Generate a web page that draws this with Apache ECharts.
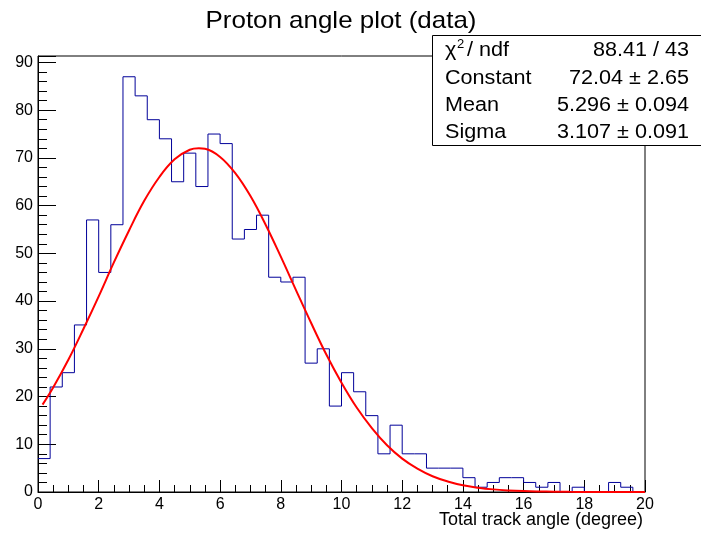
<!DOCTYPE html>
<html>
<head>
<meta charset="utf-8">
<script src="https://cdn.jsdelivr.net/npm/echarts@6/dist/echarts.min.js"></script>
<style>html,body{margin:0;padding:0;background:#fff}#c{width:701px;height:535px}</style>
</head>
<body>
<div id="c"></div>
<script>
// Histogram: 50 bins of width 0.4 from 0 to 20
const binLow = 0;
const binWidth = 0.4;
const counts = [7,22,25,35,57,46,56,87,83,78,
                74,65,71,64,75,73,53,55,58,45,
                44,45,27,30,18,25,21,16,8,14,
                8,8,5,5,5,3,1,2,3,3,
                2,1,2,0,1,0,0,2,1,0];
// Fit curve
const fitX = [0.15,0.5,1,1.5,2,2.5,3,3.5,4,4.5,5,5.3,5.5,6,6.5,7,7.5,8,8.5,9,9.5,10,10.5,11,11.5,12,12.5,13,13.5,14,14.5,15,15.5,16,16.5,17,17.5,18,18.5,19,19.5,20];
const fitY = [18.3,21.9,27.7,34.2,41.0,48.1,54.8,61.0,66.0,69.7,71.7,72.0,71.9,70.2,66.8,62.0,56.0,49.3,42.3,35.4,28.8,22.9,17.7,13.4,9.8,7.0,4.9,3.3,2.2,1.4,0.9,0.55,0.33,0.19,0.11,0.06,0.03,0.015,0.007,0.003,0.001,0.0005];
const titleText = 'Proton angle plot (data)';
const xTitle = 'Total track angle (degree)';
const statNames = ['Constant','Mean','Sigma'];
const statValues = ['88.41 / 43','72.04 \u00b1 2.65','5.296 \u00b1 0.094','3.107 \u00b1 0.091'];
const xMin = 0, xMax = 20, xStep = 2;
const yMin = 0, yMax = 91.35, yStep = 10;

const histData = counts.map((c, i) => [binLow + i * binWidth, c]);
histData.push([binLow + counts.length * binWidth, counts[counts.length - 1]]);
const fitData = fitX.map((x, i) => [x, fitY[i]]);

const FONT = '"Liberation Sans", Arial, Helvetica, sans-serif';
const chart = echarts.init(document.getElementById('c'), null, {renderer: 'canvas'});

const statFont = '20px ' + FONT;
const SX = 1.08;
const rowY = [50, 78, 105, 132];
const graphics = [
  {type: 'text', x: 341, y: 21, scaleX: 1.08, style: {text: titleText, x: 0, y: 0, align: 'center', verticalAlign: 'middle', font: '24px ' + FONT, fill: '#000'}},
  {type: 'text', x: 643, y: 520, style: {text: xTitle, x: 0, y: 0, align: 'right', verticalAlign: 'middle', font: '18px ' + FONT, fill: '#000'}},
  {type: 'rect', shape: {x: 432.5, y: 35.5, width: 300, height: 110}, style: {fill: '#fff', stroke: '#000', lineWidth: 1}, z: 10},
  {type: 'text', x: 445, y: rowY[0], z: 11, scaleX: SX, style: {text: '\u03c7', x: 0, y: 0, align: 'left', verticalAlign: 'middle', font: statFont, fill: '#000'}},
  {type: 'text', x: 457, y: rowY[0] - 6, z: 11, style: {text: '2', x: 0, y: 0, align: 'left', verticalAlign: 'middle', font: '13px ' + FONT, fill: '#000'}},
  {type: 'text', x: 467, y: rowY[0], z: 11, scaleX: SX, style: {text: '/ ndf', x: 0, y: 0, align: 'left', verticalAlign: 'middle', font: statFont, fill: '#000'}}
];
statNames.forEach((n, i) => {
  graphics.push({type: 'text', x: 445, y: rowY[i + 1], z: 11, scaleX: SX, style: {text: n, x: 0, y: 0, align: 'left', verticalAlign: 'middle', font: statFont, fill: '#000'}});
});
statValues.forEach((v, i) => {
  graphics.push({type: 'text', x: 689, y: rowY[i], z: 11, scaleX: SX, style: {text: v, x: 0, y: 0, align: 'right', verticalAlign: 'middle', font: statFont, fill: '#000'}});
});

chart.setOption({
  animation: false,
  backgroundColor: '#fff',
  grid: {left: 38, right: 56, top: 56, bottom: 43, show: true, borderColor: '#000', borderWidth: 1, backgroundColor: 'transparent'},
  xAxis: {
    type: 'value', min: xMin, max: xMax, interval: xStep,
    axisLine: {show: true, lineStyle: {color: '#000', width: 1}},
    axisTick: {show: true, inside: true, length: 12, lineStyle: {color: '#000'}},
    minorTick: {show: true, splitNumber: 4, length: 7, lineStyle: {color: '#000'}},
    splitLine: {show: false},
    axisLabel: {color: '#000', fontSize: 16, fontFamily: FONT, margin: 5}
  },
  yAxis: {
    type: 'value', min: yMin, max: yMax, interval: yStep,
    axisLine: {show: true, lineStyle: {color: '#000', width: 1}},
    axisTick: {show: true, inside: true, length: 18, lineStyle: {color: '#000'}},
    minorTick: {show: true, splitNumber: 5, length: 9, lineStyle: {color: '#000'}},
    splitLine: {show: false},
    axisLabel: {color: '#000', fontSize: 16, fontFamily: FONT, margin: 5, showMaxLabel: false,
      formatter: v => (Math.abs(v % yStep) < 1e-9 ? String(v) : '')}
  },
  series: [
    {type: 'line', data: histData, step: 'end', showSymbol: false, symbol: 'none',
     lineStyle: {color: '#000099', width: 1}, z: 3},
    {type: 'line', data: fitData, smooth: 0.4, showSymbol: false, symbol: 'none',
     lineStyle: {color: '#ff0000', width: 2}, z: 4}
  ],
  graphic: graphics
});
</script>
</body>
</html>
